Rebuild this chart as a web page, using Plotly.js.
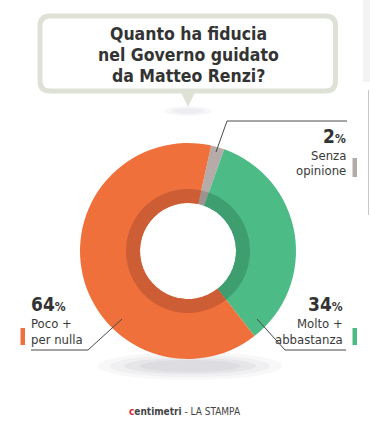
<!DOCTYPE html>
<html>
<head>
<meta charset="utf-8">
<script src="https://cdn.plot.ly/plotly-3.0.1.min.js"></script>
<style>html,body{margin:0;padding:0;background:#fff;}#chart{width:370px;height:429px;}</style>
</head>
<body>
<div id="chart"></div>
<script>
// ---- data ----
var categories = ["Senza opinione", "Molto + abbastanza", "Poco + per nulla"];
var labelLines = [["Senza", "opinione"], ["Molto +", "abbastanza"], ["Poco +", "per nulla"]];
var values = [2, 34, 64];
var colors = ["#B5ACAA", "#4CBB86", "#F0703C"];
var innerColors = ["#9C9391", "#3F9E70", "#CC5D35"];
var titleLines = ["Quanto ha fiducia", "nel Governo guidato", "da Matteo Renzi?"];
var source = "centimetri - LA STAMPA";

// ---- helpers (pixel -> paper) ----
var W = 370, H = 429;
function px(x){ return x / W; }
function py(y){ return 1 - y / H; }

var cx = 188, cy = 251, R = 108, Rin = 62, Rhole = 48;
var rotation = 12.4;

var traces = [
  {
    type: "pie", values: values, labels: categories, sort: false,
    direction: "clockwise", rotation: rotation, hole: Rhole / R,
    marker: {colors: colors, line: {width: 0}},
    textinfo: "none", hoverinfo: "label+percent", showlegend: false,
    domain: {x: [px(cx - R), px(cx + R)], y: [py(cy + R), py(cy - R)]}
  },
  {
    type: "pie", values: values, labels: categories, sort: false,
    direction: "clockwise", rotation: rotation, hole: Rhole / Rin,
    marker: {colors: innerColors, line: {width: 0}},
    textinfo: "none", hoverinfo: "skip", showlegend: false,
    domain: {x: [px(cx - Rin), px(cx + Rin)], y: [py(cy + Rin), py(cy - Rin)]}
  }
];

function pathPx(cmds){
  return cmds.map(function(c){
    var s = c[0];
    for (var i = 1; i < c.length; i += 2) s += " " + px(c[i]) + "," + py(c[i+1]);
    return s;
  }).join(" ") ;
}

var bx0 = 40, bx1 = 335.5, by0 = 16, by1 = 91, br = 10;
var bubble = pathPx([
  ["M", bx0 + br, by0], ["L", bx1 - br, by0], ["Q", bx1, by0, bx1, by0 + br],
  ["L", bx1, by1 - br], ["Q", bx1, by1, bx1 - br, by1],
  ["L", bx0 + br, by1], ["Q", bx0, by1, bx0, by1 - br],
  ["L", bx0, by0 + br], ["Q", bx0, by0, bx0 + br, by0]
]) + " Z";

var shapes = [];
// donut shadow
[[92, 14, 0.035], [80, 11, 0.04], [66, 8, 0.05], [50, 6, 0.05]].forEach(function(s){
  shapes.push({type: "circle", xref: "paper", yref: "paper", layer: "below",
    x0: px(cx + 2 - s[0]), x1: px(cx + 2 + s[0]), y0: py(366 + s[1]), y1: py(366 - s[1]),
    fillcolor: "rgba(60,60,80," + s[2] + ")", line: {width: 0}});
});
// tail shadow
[[24, 5, 0.05], [16, 3, 0.06]].forEach(function(s){
  shapes.push({type: "circle", xref: "paper", yref: "paper", layer: "below",
    x0: px(188 - s[0]), x1: px(188 + s[0]), y0: py(111 + s[1]), y1: py(111 - s[1]),
    fillcolor: "rgba(90,90,130," + s[2] + ")", line: {width: 0}});
});
// bubble
shapes.push({type: "path", xref: "paper", yref: "paper", path: bubble,
  fillcolor: "#ffffff", line: {color: "#DEE1D5", width: 5}});
shapes.push({type: "path", xref: "paper", yref: "paper",
  path: pathPx([["M", 181, 92], ["L", 195, 92], ["L", 188, 107]]) + " Z",
  fillcolor: "#DEE1D5", line: {width: 0}});
// right edge artefacts
shapes.push({type: "rect", xref: "paper", yref: "paper", x0: px(363), x1: px(370), y0: py(82), y1: py(0),
  fillcolor: "#F3F3F3", line: {width: 0}});
shapes.push({type: "line", xref: "paper", yref: "paper", x0: px(368.5), x1: px(368.5), y0: py(90), y1: py(215),
  line: {color: "#C8C8C8", width: 1}});

// leader lines
var lc = {color: "#4a4a4a", width: 1};
function leader(pts){
  var c = pts.map(function(p, i){ return [i === 0 ? "M" : "L", p[0], p[1]]; });
  shapes.push({type: "path", xref: "paper", yref: "paper", path: pathPx(c), line: lc});
}
leader([[216, 152], [227, 121], [347, 121]]);
leader([[257, 319], [285, 350], [346, 350]]);
leader([[122, 319], [88, 350], [31, 350]]);
// colour tabs
function tab(x0, x1, y0, y1, col){
  shapes.push({type: "rect", xref: "paper", yref: "paper", x0: px(x0), x1: px(x1), y0: py(y1), y1: py(y0),
    fillcolor: col, line: {width: 0}});
}
tab(352.5, 357, 158, 177, colors[0]);
tab(352.5, 357, 328, 345, colors[1]);
tab(20.5, 25, 328, 345, colors[2]);

var FN = "'Liberation Sans Narrow', 'DejaVu Sans Condensed', Arial, sans-serif";
var annotations = [];
function ann(text, x, y, xanchor, size, color, extra){
  var a = {text: text, xref: "paper", yref: "paper", x: px(x), y: py(y), xanchor: xanchor, yanchor: "middle",
    showarrow: false, align: xanchor === "right" ? "right" : (xanchor === "left" ? "left" : "center"),
    font: {family: FN, size: size, color: color}};
  if (extra) for (var k in extra) a[k] = extra[k];
  annotations.push(a);
}
// title
titleLines.forEach(function(t, i){
  ann("<b>" + t + "</b>", 188, 34 + i * 21, "center", 17.5, "#333333");
});
function pct(v){ return "<b>" + v + "</b><span style='font-size:12px'><b>%</b></span>"; }
// labels
ann(pct(values[0]), 348, 136, "right", 19, "#333333");
ann(labelLines[0][0], 348, 155, "right", 13, "#3a3a3a");
ann(labelLines[0][1], 348, 171, "right", 13, "#3a3a3a");
ann(pct(values[1]), 345, 304, "right", 19, "#333333");
ann(labelLines[1][0], 345, 323, "right", 13, "#3a3a3a");
ann(labelLines[1][1], 345, 339, "right", 13, "#3a3a3a");
ann(pct(values[2]), 29, 304, "left", 19, "#333333");
ann(labelLines[2][0], 29, 323, "left", 13, "#3a3a3a");
ann(labelLines[2][1], 29, 339, "left", 13, "#3a3a3a");
// source
var srcParts = source.split(" - ");
ann("<b><span style='color:#D8262E'>" + srcParts[0].charAt(0) + "</span>" + srcParts[0].slice(1) + "</b> - " + srcParts[1],
  185, 411, "center", 10, "#444444");

var layout = {
  width: W, height: H, margin: {l: 0, r: 0, t: 0, b: 0},
  paper_bgcolor: "#ffffff", plot_bgcolor: "#ffffff",
  showlegend: false, shapes: shapes, annotations: annotations
};
Plotly.newPlot("chart", traces, layout, {displayModeBar: false, staticPlot: true});
</script>
</body>
</html>
